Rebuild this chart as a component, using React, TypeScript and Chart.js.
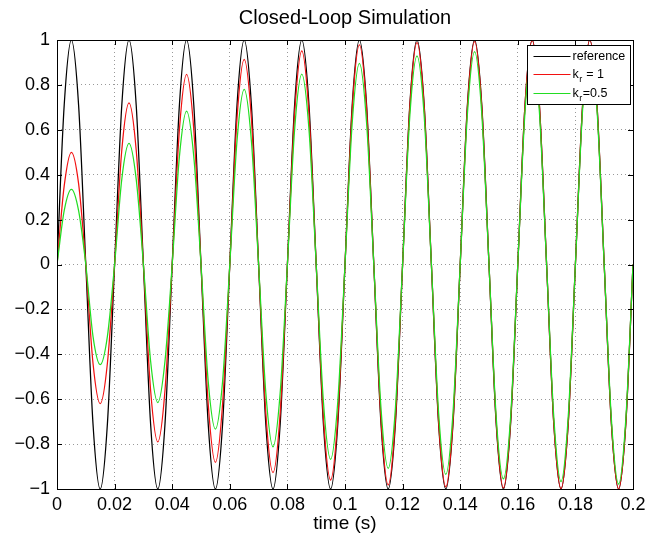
import React, { useEffect, useRef } from 'react';
import { Chart, registerables } from 'chart.js';

Chart.register(...registerables);

const TIME = [
  0, 0.0025, 0.005, 0.0075, 0.01, 0.0125, 0.015, 0.0175, 0.02, 0.0225,
  0.025, 0.0275, 0.03, 0.0325, 0.035, 0.0375, 0.04, 0.0425, 0.045, 0.0475,
  0.05, 0.0525, 0.055, 0.0575, 0.06, 0.0625, 0.065, 0.0675, 0.07, 0.0725,
  0.075, 0.0775, 0.08, 0.0825, 0.085, 0.0875, 0.09, 0.0925, 0.095, 0.0975,
  0.1, 0.1025, 0.105, 0.1075, 0.11, 0.1125, 0.115, 0.1175, 0.12, 0.1225,
  0.125, 0.1275, 0.13, 0.1325, 0.135, 0.1375, 0.14, 0.1425, 0.145, 0.1475,
  0.15, 0.1525, 0.155, 0.1575, 0.16, 0.1625, 0.165, 0.1675, 0.17, 0.1725,
  0.175, 0.1775, 0.18, 0.1825, 0.185, 0.1875, 0.19, 0.1925, 0.195, 0.1975,
  0.2,
];

const REFERENCE = [
  0, 0.71, 1, 0.71, 0, -0.71, -1, -0.71,
  0, 0.71, 1, 0.71, 0, -0.71, -1, -0.71,
  0, 0.71, 1, 0.71, 0, -0.71, -1, -0.71,
  0, 0.71, 1, 0.71, 0, -0.71, -1, -0.71,
  0, 0.71, 1, 0.71, 0, -0.71, -1, -0.71,
  0, 0.71, 1, 0.71, 0, -0.71, -1, -0.71,
  0, 0.71, 1, 0.71, 0, -0.71, -1, -0.71,
  0, 0.71, 1, 0.71, 0, -0.71, -1, -0.71,
  0, 0.71, 1, 0.71, 0, -0.71, -1, -0.71,
  0, 0.71, 1, 0.71, 0, -0.71, -1, -0.71,
  0,
];

const KR_1 = [
  0, 0.35, 0.5, 0.36, 0, -0.44, -0.62, -0.44,
  0, 0.51, 0.72, 0.51, 0, -0.56, -0.79, -0.56,
  0, 0.6, 0.847, 0.6, 0, -0.62, -0.881, -0.62,
  0, 0.65, 0.914, 0.65, 0, -0.66, -0.927, -0.66,
  0, 0.67, 0.952, 0.67, 0, -0.68, -0.96, -0.68,
  0, 0.69, 0.978, 0.69, 0, -0.69, -0.982, -0.69,
  0, 0.7, 0.988, 0.7, 0, -0.7, -0.99, -0.7,
  0, 0.7, 0.993, 0.7, 0, -0.7, -0.995, -0.7,
  0, 0.71, 0.997, 0.71, 0, -0.71, -0.998, -0.71,
  0, 0.71, 0.999, 0.71, 0, -0.71, -0.999, -0.71,
  0,
];

const KR_05 = [
  0, 0.24, 0.335, 0.24, 0, -0.32, -0.446, -0.32,
  0, 0.38, 0.539, 0.38, 0, -0.43, -0.615, -0.43,
  0, 0.48, 0.683, 0.48, 0, -0.52, -0.733, -0.52,
  0, 0.55, 0.78, 0.55, 0, -0.57, -0.812, -0.57,
  0, 0.6, 0.848, 0.6, 0, -0.61, -0.868, -0.61,
  0, 0.63, 0.896, 0.63, 0, -0.64, -0.908, -0.64,
  0, 0.66, 0.929, 0.66, 0, -0.66, -0.935, -0.66,
  0, 0.67, 0.948, 0.67, 0, -0.68, -0.955, -0.68,
  0, 0.68, 0.96, 0.68, 0, -0.68, -0.967, -0.68,
  0, 0.69, 0.972, 0.69, 0, -0.69, -0.978, -0.69,
  0,
];

const SERIES_LABELS = ['reference', 'k_r = 1', 'k_r=0.5'];
const SERIES_COLORS = ['#000000', '#f21010', '#22dd22'];

const X_TICKS = [0, 0.02, 0.04, 0.06, 0.08, 0.1, 0.12, 0.14, 0.16, 0.18, 0.2];
const X_TICK_LABELS = ['0', '0.02', '0.04', '0.06', '0.08', '0.1', '0.12', '0.14', '0.16', '0.18', '0.2'];
const Y_TICKS = [-1, -0.8, -0.6, -0.4, -0.2, 0, 0.2, 0.4, 0.6, 0.8, 1];
const Y_TICK_LABELS = ['\u22121', '\u22120.8', '\u22120.6', '\u22120.4', '\u22120.2', '0', '0.2', '0.4', '0.6', '0.8', '1'];

const TITLE = 'Closed-Loop Simulation';
const X_TITLE = 'time (s)';

const FONT = "'Liberation Sans', Arial, Helvetica, sans-serif";

const framePlugin = {
  id: 'matlabFrame',
  afterDraw(chart: any) {
    const { ctx, chartArea, scales } = chart;
    const { left, right, top, bottom } = chartArea;
    const xs = scales.x;
    const ys = scales.y;
    ctx.save();
    ctx.strokeStyle = '#000';
    ctx.lineWidth = 1;
    ctx.setLineDash([]);
    ctx.beginPath();
    const tl = 5;
    X_TICKS.forEach((v) => {
      const px = Math.round(xs.getPixelForValue(v)) + 0.5;
      ctx.moveTo(px, bottom);
      ctx.lineTo(px, bottom - tl);
      ctx.moveTo(px, top);
      ctx.lineTo(px, top + tl);
    });
    Y_TICKS.forEach((v) => {
      const py = Math.round(ys.getPixelForValue(v)) + 0.5;
      ctx.moveTo(left, py);
      ctx.lineTo(left + tl, py);
      ctx.moveTo(right, py);
      ctx.lineTo(right - tl, py);
    });
    ctx.stroke();
    ctx.strokeRect(Math.round(left) + 0.5, Math.round(top) + 0.5, Math.round(right - left), Math.round(bottom - top));

    // legend
    const bx = Math.round(right) - 106 + 0.5;
    const by = Math.round(top) + 5 + 0.5;
    const bw = 103;
    const bh = 59;
    ctx.fillStyle = '#fff';
    ctx.fillRect(bx, by, bw, bh);
    ctx.strokeStyle = '#000';
    ctx.strokeRect(bx, by, bw, bh);
    const rows = [by + 10.5, by + 28.5, by + 47];
    chart.data.datasets.forEach((ds: any, i: number) => {
      const yy = Math.round(rows[i]) + 0.5;
      ctx.strokeStyle = ds.borderColor;
      ctx.beginPath();
      ctx.moveTo(bx + 6, yy);
      ctx.lineTo(bx + 43, yy);
      ctx.stroke();
      ctx.fillStyle = '#000';
      ctx.textBaseline = 'middle';
      ctx.textAlign = 'left';
      const label: string = ds.label;
      let tx = bx + 45;
      const m = label.match(/^(.*?)_(\w)(.*)$/);
      if (m) {
        ctx.font = `12.5px ${FONT}`;
        ctx.fillText(m[1], tx, yy);
        tx += ctx.measureText(m[1]).width + 0.5;
        ctx.font = `9px ${FONT}`;
        ctx.fillText(m[2], tx, yy + 5);
        tx += ctx.measureText(m[2]).width + 0.5;
        ctx.font = `12.5px ${FONT}`;
        ctx.fillText(m[3], tx, yy);
      } else {
        ctx.font = `12.5px ${FONT}`;
        ctx.fillText(label, tx, yy);
      }
    });
    ctx.restore();
  },
};

export default function App() {
  const canvasRef = useRef<HTMLCanvasElement | null>(null);

  useEffect(() => {
    document.body.style.margin = '0';
    const canvas = canvasRef.current;
    if (!canvas) return;
    Chart.defaults.font.family = FONT;
    const series = [REFERENCE, KR_1, KR_05];
    const chart = new Chart(canvas, {
      type: 'line',
      data: {
        datasets: series.map((vals, i) => ({
          label: SERIES_LABELS[i],
          data: TIME.map((t, j) => ({ x: t, y: vals[j] })),
          borderColor: SERIES_COLORS[i],
          backgroundColor: SERIES_COLORS[i],
          borderWidth: 1.25,
          pointRadius: 0,
          fill: false,
          cubicInterpolationMode: 'monotone' as const,
          order: 3 - i,
        })),
      },
      options: {
        animation: false,
        responsive: false,
        devicePixelRatio: 1,
        layout: { padding: { left: 0, right: 32, top: 0, bottom: 0 } },
        plugins: {
          legend: { display: false },
          tooltip: { enabled: false },
          title: {
            display: true,
            text: TITLE,
            fullSize: false,
            color: '#000',
            font: { size: 20, weight: 'normal', family: FONT },
            padding: { top: 6, bottom: 10 },
          },
        },
        scales: {
          x: {
            type: 'linear',
            min: 0,
            max: 0.2,
            afterBuildTicks: (s: any) => {
              s.ticks = X_TICKS.map((v) => ({ value: v }));
            },
            afterFit: (s: any) => {
              s.height = 52;
            },
            ticks: {
              callback: (_v: any, i: number) => X_TICK_LABELS[i],
              color: '#000',
              font: { size: 18, family: FONT },
              padding: 5,
              maxRotation: 0,
              autoSkip: false,
            },
            grid: { color: '#999999', drawTicks: false, lineWidth: 1 },
            border: { display: false, dash: [1, 3] },
            title: {
              display: true,
              text: X_TITLE,
              color: '#000',
              font: { size: 19, family: FONT },
              padding: { top: 0, bottom: 6 },
            },
          },
          y: {
            type: 'linear',
            min: -1,
            max: 1,
            afterBuildTicks: (s: any) => {
              s.ticks = Y_TICKS.map((v) => ({ value: v }));
            },
            afterFit: (s: any) => {
              s.width = 57;
            },
            ticks: {
              callback: (_v: any, i: number) => Y_TICK_LABELS[i],
              color: '#000',
              font: { size: 18, family: FONT },
              padding: 7,
              autoSkip: false,
            },
            grid: { color: '#999999', drawTicks: false, lineWidth: 1 },
            border: { display: false, dash: [1, 3] },
          },
        },
      },
      plugins: [framePlugin],
    } as any);
    return () => chart.destroy();
  }, []);

  return (
    <canvas
      ref={canvasRef}
      width={665}
      height={541}
      style={{ display: 'block', width: '665px', height: '541px' }}
    />
  );
}
